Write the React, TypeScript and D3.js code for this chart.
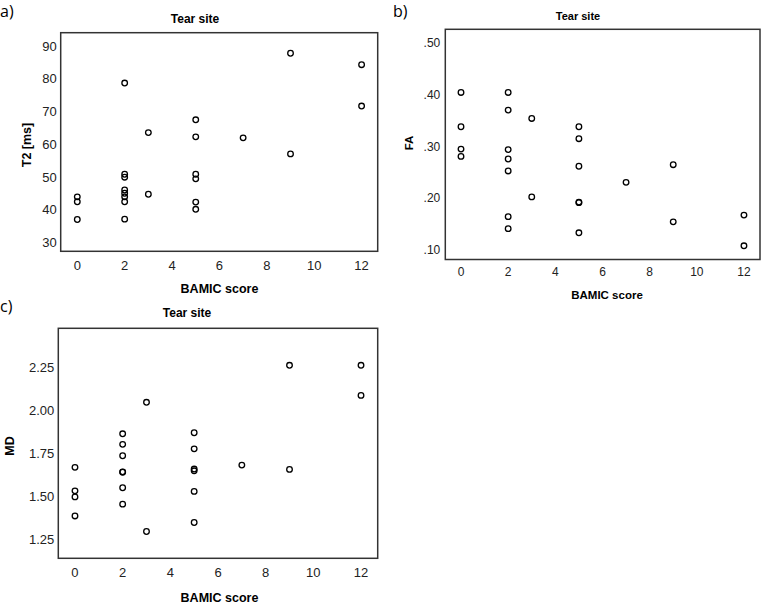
import React from "react";
import * as d3 from "d3";

// ---------- DATA ----------
const bamicA = [0, 0, 0, 2, 2, 2, 2, 2, 2, 2, 2, 3, 3, 5, 5, 5, 5, 5, 5, 7, 9, 9, 12, 12];
const t2Values = [44.0, 42.5, 37.1, 78.7, 50.9, 50.0, 46.1, 45.1, 44.0, 42.5, 37.2, 63.6, 44.8, 67.5, 62.3, 50.9, 49.5, 42.4, 40.2, 62.0, 87.8, 57.1, 84.3, 71.7];

const bamicB = [0, 0, 0, 0, 2, 2, 2, 2, 2, 2, 2, 3, 3, 5, 5, 5, 5, 5, 5, 7, 9, 9, 12, 12];
const faValues = [0.404, 0.338, 0.295, 0.281, 0.404, 0.370, 0.294, 0.276, 0.253, 0.165, 0.142, 0.354, 0.203, 0.338, 0.315, 0.262, 0.193, 0.192, 0.134, 0.231, 0.265, 0.155, 0.168, 0.109];

const bamicC = [0, 0, 0, 0, 2, 2, 2, 2, 2, 2, 2, 3, 3, 5, 5, 5, 5, 5, 5, 7, 9, 9, 12, 12];
const mdValues = [1.670, 1.534, 1.499, 1.389, 1.864, 1.803, 1.737, 1.644, 1.642, 1.552, 1.457, 2.046, 1.299, 1.870, 1.777, 1.660, 1.650, 1.531, 1.351, 1.683, 2.260, 1.658, 2.260, 2.086];

const xTicks = [0, 2, 4, 6, 8, 10, 12];
const t2Ticks = [30, 40, 50, 60, 70, 80, 90];
const faTicks = [0.1, 0.2, 0.3, 0.4, 0.5];
const mdTicks = [1.25, 1.5, 1.75, 2.0, 2.25];

const FONT = "Liberation Sans, Arial, sans-serif";

type PanelProps = {
  xs: number[];
  ys: number[];
  yTicks: number[];
  yFormat: (v: number) => string;
  xDomain: [number, number];
  yDomain: [number, number];
  frame: { left: number; top: number; right: number; bottom: number };
  tickFont: number;
  labelFont: number;
  title: { x: number; y: number };
  xLabel: { x: number; y: number };
  yLabel: { x: number; y: number; text: string };
  xTickY: number;
  yTickGap: number;
  tag: { x: number; y: number; text: string };
};

function Panel(p: PanelProps) {
  const x = d3.scaleLinear().domain(p.xDomain).range([p.frame.left, p.frame.right]);
  const y = d3.scaleLinear().domain(p.yDomain).range([p.frame.bottom, p.frame.top]);
  return (
    <g>
      <text x={p.tag.x} y={p.tag.y} fontFamily="Open Sans, DejaVu Sans, sans-serif" fontSize={16} fill="#000">
        {p.tag.text}
      </text>
      <text x={p.title.x} y={p.title.y} textAnchor="middle" dominantBaseline="central" fontFamily={FONT} fontWeight="bold" fontSize={p.labelFont - 0.5} fill="#000">
        Tear site
      </text>
      <rect
        x={p.frame.left}
        y={p.frame.top}
        width={p.frame.right - p.frame.left}
        height={p.frame.bottom - p.frame.top}
        fill="#fff"
        stroke="#333"
        strokeWidth={1.5}
      />
      {p.yTicks.map((t) => (
        <text key={"y" + t} x={p.frame.left - p.yTickGap} y={y(t)} textAnchor="end" dominantBaseline="central" fontFamily={FONT} fontSize={p.tickFont} fill="#222">
          {p.yFormat(t)}
        </text>
      ))}
      {xTicks.map((t) => (
        <text key={"x" + t} x={x(t)} y={p.xTickY} textAnchor="middle" dominantBaseline="central" fontFamily={FONT} fontSize={p.tickFont} fill="#222">
          {t}
        </text>
      ))}
      <text x={p.xLabel.x} y={p.xLabel.y} textAnchor="middle" dominantBaseline="central" fontFamily={FONT} fontWeight="bold" fontSize={p.labelFont} fill="#000">
        BAMIC score
      </text>
      <text
        transform={`translate(${p.yLabel.x},${p.yLabel.y}) rotate(-90)`}
        textAnchor="middle"
        dominantBaseline="central"
        fontFamily={FONT}
        fontWeight="bold"
        fontSize={p.labelFont}
        fill="#000"
      >
        {p.yLabel.text}
      </text>
      {p.xs.map((xv, i) => (
        <circle key={i} cx={x(xv)} cy={y(p.ys[i])} r={2.8} fill="none" stroke="#000" strokeWidth={1.3} />
      ))}
    </g>
  );
}

export default function App() {
  return (
    <svg width={762} height={604} style={{ position: "absolute", left: 0, top: 0, background: "#fff" }}>
      <rect x={0} y={0} width={762} height={604} fill="#fff" />
      <Panel
        xs={bamicA}
        ys={t2Values}
        yTicks={t2Ticks}
        yFormat={(v) => String(v)}
        xDomain={[-0.7, 12.68]}
        yDomain={[27.4, 94.06]}
        frame={{ left: 60.7, top: 32.7, right: 377.7, bottom: 251.3 }}
        tickFont={13}
        labelFont={12.5}
        title={{ x: 195, y: 19 }}
        xLabel={{ x: 219.5, y: 289 }}
        yLabel={{ x: 27, y: 145, text: "T2 [ms]" }}
        xTickY={265}
        yTickGap={4}
        tag={{ x: 0, y: 17, text: "a)" }}
      />
      <Panel
        xs={bamicB}
        ys={faValues}
        yTicks={faTicks}
        yFormat={(v) => d3.format(".2f")(v).replace(/^0/, "")}
        xDomain={[-0.666, 12.68]}
        yDomain={[0.0826, 0.5255]}
        frame={{ left: 445.3, top: 29.3, right: 760, bottom: 259.5 }}
        tickFont={12}
        labelFont={11.5}
        title={{ x: 578, y: 15.7 }}
        xLabel={{ x: 607, y: 295 }}
        yLabel={{ x: 409, y: 143, text: "FA" }}
        xTickY={271.7}
        yTickGap={5}
        tag={{ x: 393, y: 17, text: "b)" }}
      />
      <Panel
        xs={bamicC}
        ys={mdValues}
        yTicks={mdTicks}
        yFormat={(v) => d3.format(".2f")(v)}
        xDomain={[-0.7, 12.7]}
        yDomain={[1.144, 2.474]}
        frame={{ left: 58.3, top: 328.3, right: 377.7, bottom: 558.3 }}
        tickFont={13}
        labelFont={12.5}
        title={{ x: 187, y: 313 }}
        xLabel={{ x: 219.5, y: 597.7 }}
        yLabel={{ x: 10, y: 446, text: "MD" }}
        xTickY={572.7}
        yTickGap={4}
        tag={{ x: 0, y: 312, text: "c)" }}
      />
    </svg>
  );
}
